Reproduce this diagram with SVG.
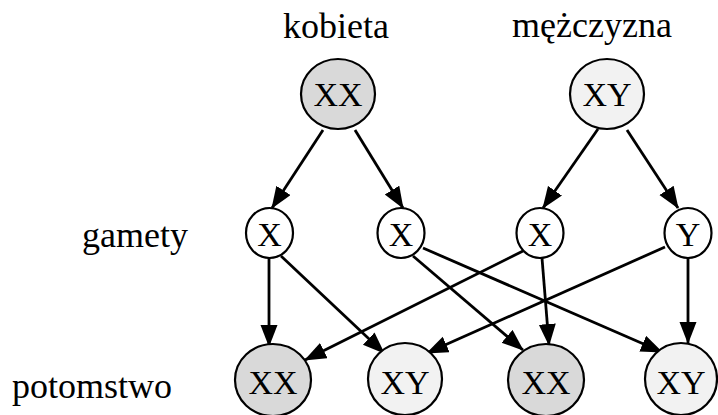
<svg xmlns="http://www.w3.org/2000/svg" width="718" height="415" viewBox="0 0 718 415">
<style>
text{font-family:'Liberation Serif','Times New Roman',serif;fill:#000}
.lbl{font-size:36px}
.nt{font-size:34px;text-anchor:middle}
.n{stroke:#000;stroke-width:2.2}
.dark{fill:#d9d9d9}
.light{fill:#f2f2f2}
.white{fill:#fff}
.e{stroke:#000;stroke-width:2.8;fill:none;marker-end:url(#ah)}
</style>
<defs>
<marker id="ah" markerUnits="userSpaceOnUse" markerWidth="23" markerHeight="18" refX="21" refY="8.5" orient="auto">
<path d="M0,0 L22,8.5 L0,17 z" fill="#000"/>
</marker>
</defs>
<rect width="718" height="415" fill="#fff"/>
<g id="labels">
<text class="lbl" x="283" y="38">kobieta</text>
<text class="lbl" x="512" y="37">mężczyzna</text>
<text class="lbl" x="82" y="247">gamety</text>
<text class="lbl" x="12" y="398">potomstwo</text>
</g>
<g id="connectors">
<line class="e" x1="323" y1="130" x2="272" y2="208"/>
<line class="e" x1="355" y1="130" x2="403" y2="208"/>
<line class="e" x1="598" y1="129" x2="543" y2="208"/>
<line class="e" x1="627" y1="130" x2="678" y2="208"/>
<line class="e" x1="269" y1="258" x2="269" y2="346"/>
<line class="e" x1="281" y1="256" x2="384" y2="353"/>
<line class="e" x1="413" y1="256" x2="523" y2="350"/>
<line class="e" x1="423" y1="248" x2="662" y2="352"/>
<line class="e" x1="523" y1="251" x2="305" y2="360"/>
<line class="e" x1="542" y1="258" x2="549" y2="345"/>
<line class="e" x1="665" y1="247" x2="427" y2="353"/>
<line class="e" x1="688" y1="258" x2="688" y2="343"/>
</g>
<g id="mother">
<ellipse class="n dark" cx="338" cy="94" rx="37" ry="35"/>
<text class="nt" x="338" y="106">XX</text>
</g>
<g id="father">
<ellipse class="n light" cx="607" cy="94" rx="37" ry="35"/>
<text class="nt" x="607" y="106">XY</text>
</g>
<g id="gamete1">
<ellipse class="n white" cx="269.5" cy="233" rx="23.5" ry="25"/>
<text class="nt" x="269.5" y="246">X</text>
</g>
<g id="gamete2">
<ellipse class="n white" cx="401" cy="233" rx="23.5" ry="25"/>
<text class="nt" x="401" y="246">X</text>
</g>
<g id="gamete3">
<ellipse class="n white" cx="540" cy="233" rx="23.5" ry="25"/>
<text class="nt" x="540" y="246">X</text>
</g>
<g id="gamete4">
<ellipse class="n white" cx="688" cy="233" rx="23.5" ry="25"/>
<text class="nt" x="688" y="246">Y</text>
</g>
<g id="child1">
<ellipse class="n dark" cx="273" cy="380" rx="38" ry="36"/>
<text class="nt" x="273" y="394">XX</text>
</g>
<g id="child2">
<ellipse class="n light" cx="405" cy="379" rx="37" ry="36"/>
<text class="nt" x="405" y="394">XY</text>
</g>
<g id="child3">
<ellipse class="n dark" cx="546" cy="380" rx="38" ry="36"/>
<text class="nt" x="546" y="394">XX</text>
</g>
<g id="child4">
<ellipse class="n light" cx="681" cy="379" rx="36" ry="36"/>
<text class="nt" x="681" y="394">XY</text>
</g>
</svg>
